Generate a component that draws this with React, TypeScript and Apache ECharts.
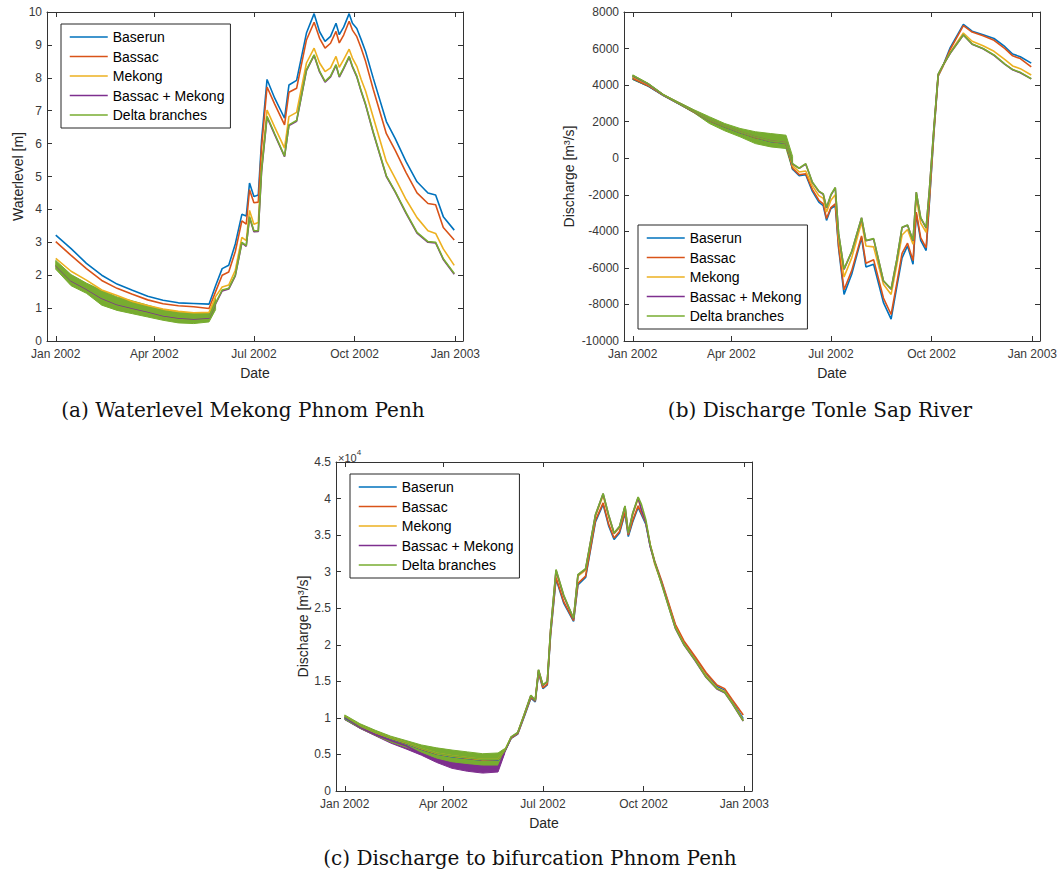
import React, { useEffect, useRef } from "react";
import * as echarts from "echarts";

// ---------- data ----------
const dates = [
  "2002-01-01", "2002-01-15", "2002-01-29", "2002-02-12", "2002-02-26", "2002-03-12", "2002-03-26", "2002-04-09",
  "2002-04-23", "2002-05-07", "2002-05-21", "2002-05-27", "2002-06-02", "2002-06-08", "2002-06-14", "2002-06-20",
  "2002-06-24", "2002-06-27", "2002-07-01", "2002-07-05", "2002-07-08", "2002-07-13", "2002-07-20", "2002-07-29",
  "2002-08-02", "2002-08-09", "2002-08-18", "2002-08-25", "2002-08-30", "2002-09-04", "2002-09-09", "2002-09-14",
  "2002-09-17", "2002-09-21", "2002-09-26", "2002-09-29", "2002-10-03", "2002-10-07", "2002-10-11", "2002-10-18",
  "2002-10-30", "2002-11-07", "2002-11-17", "2002-11-27", "2002-12-07", "2002-12-14", "2002-12-21", "2002-12-31",
];

const seriesNames = ["Baserun", "Bassac", "Mekong", "Bassac + Mekong", "Delta branches"];
const tickDates = ["2002-01-01", "2002-04-01", "2002-07-01", "2002-10-01", "2003-01-01"];
const monthNames = ["Jan", "Feb", "Mar", "Apr", "May", "Jun", "Jul", "Aug", "Sep", "Oct", "Nov", "Dec"];
const captions = ["(a) Waterlevel Mekong Phnom Penh", "(b) Discharge Tonle Sap River", "(c) Discharge to bifurcation Phnom Penh"];

// (a) Waterlevel Mekong Phnom Penh [m]
const wlBaserun = [3.22, 2.81, 2.36, 2.0, 1.73, 1.54, 1.36, 1.24, 1.16, 1.14, 1.12, 1.68, 2.2, 2.3, 2.95, 3.85, 3.8, 4.8, 4.39, 4.44, 6.1, 7.95, 7.38, 6.77, 7.78, 7.92, 9.36, 9.95, 9.4, 9.11, 9.26, 9.66, 9.31, 9.54, 9.95, 9.66, 9.5, 9.16, 8.8, 7.99, 6.67, 6.16, 5.45, 4.84, 4.5, 4.44, 3.78, 3.37];
const wlBassac = [3.02, 2.6, 2.2, 1.84, 1.6, 1.42, 1.25, 1.13, 1.07, 1.04, 0.99, 1.5, 2.0, 2.1, 2.72, 3.65, 3.55, 4.6, 4.2, 4.22, 5.9, 7.72, 7.2, 6.57, 7.56, 7.68, 9.15, 9.69, 9.2, 8.9, 9.05, 9.41, 9.06, 9.3, 9.72, 9.45, 9.25, 8.9, 8.5, 7.65, 6.3, 5.8, 5.12, 4.5, 4.18, 4.14, 3.45, 3.07];
const wlMekong = [2.51, 2.12, 1.85, 1.55, 1.38, 1.2, 1.08, 0.97, 0.9, 0.86, 0.87, 1.35, 1.64, 1.7, 2.15, 3.15, 3.05, 3.97, 3.55, 3.6, 5.3, 7.02, 6.5, 5.86, 6.82, 6.95, 8.45, 8.9, 8.45, 8.19, 8.3, 8.65, 8.32, 8.55, 8.87, 8.6, 8.35, 7.95, 7.6, 6.8, 5.45, 4.95, 4.3, 3.75, 3.35, 3.27, 2.8, 2.3];
const wlBoth = [2.3, 1.83, 1.58, 1.3, 1.11, 1.0, 0.89, 0.77, 0.7, 0.67, 0.7, 1.13, 1.52, 1.58, 1.98, 2.98, 2.88, 3.75, 3.32, 3.33, 5.15, 6.8, 6.27, 5.6, 6.55, 6.68, 8.22, 8.68, 8.18, 7.87, 8.03, 8.38, 8.02, 8.28, 8.63, 8.33, 8.03, 7.58, 7.18, 6.33, 5.0, 4.53, 3.88, 3.28, 3.0, 2.98, 2.48, 2.03];
const wlDelta = [2.32, 1.85, 1.6, 1.32, 1.13, 1.02, 0.91, 0.79, 0.72, 0.69, 0.72, 1.15, 1.55, 1.6, 2.0, 3.0, 2.9, 3.78, 3.35, 3.35, 5.2, 6.83, 6.3, 5.62, 6.57, 6.7, 8.24, 8.7, 8.2, 7.89, 8.05, 8.4, 8.04, 8.3, 8.65, 8.35, 8.05, 7.6, 7.2, 6.35, 5.02, 4.55, 3.9, 3.3, 3.02, 3.0, 2.5, 2.05];
// tidal band of "Delta branches" over the first 12 dates (low / high envelope)
const wlDeltaLow = [2.18, 1.68, 1.45, 1.09, 0.93, 0.83, 0.73, 0.63, 0.55, 0.53, 0.58, 0.95];
const wlDeltaHigh = [2.45, 2.02, 1.76, 1.54, 1.34, 1.22, 1.09, 0.95, 0.88, 0.85, 0.85, 1.3];

// (b) Discharge Tonle Sap River [m3/s]
const tsBaserun = [4330, 3950, 3430, 2980, 2520, 2060, 1720, 1410, 1130, 920, 820, -600, -950, -900, -1800, -2400, -2600, -3400, -2750, -2600, -4900, -7450, -6350, -4350, -5950, -5800, -7900, -8800, -7100, -5450, -4800, -5800, -3050, -4500, -5050, -2400, 1300, 4500, 5000, 6050, 7320, 6950, 6750, 6550, 6100, 5700, 5550, 5200];
const tsBassac = [4360, 3970, 3440, 2990, 2530, 2070, 1730, 1420, 1140, 930, 830, -550, -900, -850, -1700, -2300, -2500, -3300, -2700, -2500, -4800, -7200, -6150, -4250, -5750, -5550, -7650, -8550, -6900, -5200, -4650, -5600, -2950, -4350, -4900, -2300, 1350, 4500, 5000, 5950, 7250, 6900, 6700, 6450, 6000, 5600, 5450, 5000];
const tsMekong = [4450, 4030, 3460, 3010, 2550, 2090, 1750, 1440, 1160, 950, 850, -420, -750, -700, -1500, -2050, -2200, -2950, -2300, -2000, -4400, -6500, -5450, -3500, -4800, -4850, -6900, -7450, -5900, -4200, -3900, -4700, -2150, -3550, -4050, -1900, 1500, 4550, 5000, 5800, 6850, 6400, 6150, 5850, 5400, 5050, 4900, 4550];
const tsBoth = [4500, 4060, 3460, 3010, 2550, 2090, 1750, 1440, 1160, 950, 850, -320, -560, -320, -1320, -1820, -1970, -2720, -2020, -1620, -4120, -6080, -5120, -3270, -4520, -4420, -6720, -7170, -5620, -3790, -3670, -4520, -1870, -3270, -3820, -1720, 1590, 4590, 5040, 5740, 6740, 6240, 5990, 5630, 5130, 4840, 4680, 4340];
const tsDelta = [4530, 4080, 3470, 3010, 2550, 2090, 1750, 1440, 1160, 950, 850, -300, -550, -300, -1300, -1800, -1950, -2700, -2000, -1600, -4100, -6050, -5100, -3250, -4500, -4400, -6700, -7150, -5600, -3780, -3650, -4500, -1850, -3250, -3800, -1700, 1600, 4600, 5050, 5750, 6750, 6250, 6000, 5650, 5150, 4850, 4700, 4350];
const tsDeltaLow = [4300, 3930, 3420, 2960, 2480, 1900, 1500, 1170, 800, 620, 530, -650];
const tsDeltaHigh = [4560, 4100, 3490, 3070, 2650, 2270, 1900, 1630, 1450, 1350, 1260, 100];

// (c) Discharge to bifurcation Phnom Penh [m3/s]
const bfBaserun = [10000, 8800, 7900, 7150, 6500, 5700, 5050, 4700, 4450, 4200, 4250, 5400, 7200, 7800, 10200, 12700, 12200, 16200, 14000, 14500, 21300, 29000, 25700, 23200, 28200, 29200, 36800, 39200, 36300, 34400, 35300, 38000, 34800, 36800, 38800, 37800, 36500, 33500, 31300, 28300, 22600, 20300, 18200, 16000, 14300, 13800, 12300, 9900];
const bfBassac = [10100, 8850, 7950, 7200, 6550, 5750, 5100, 4750, 4500, 4250, 4300, 5400, 7250, 7850, 10300, 12800, 12300, 16300, 14100, 14600, 21500, 29200, 25900, 23300, 28400, 29400, 37000, 39400, 36500, 34600, 35500, 38200, 35000, 37000, 39000, 38000, 36700, 33700, 31500, 28500, 22800, 20500, 18400, 16200, 14500, 14000, 12500, 10400];
const bfMekong = [10200, 8900, 8000, 7250, 6600, 5800, 5150, 4800, 4550, 4300, 4350, 5500, 7350, 7950, 10450, 13000, 12400, 16500, 14400, 14900, 21900, 30000, 26600, 23600, 29400, 30200, 37600, 40400, 37500, 35200, 36000, 38800, 35200, 37800, 40000, 38400, 36800, 33600, 31100, 28200, 22400, 20100, 18000, 15800, 14100, 13600, 12100, 9700];
const bfBoth = [10100, 8700, 7700, 6900, 6200, 5100, 4200, 3700, 3300, 3100, 3200, 5300, 7350, 7950, 10450, 13050, 12350, 16550, 14450, 14950, 21950, 30200, 26700, 23550, 29550, 30350, 37750, 40650, 37750, 35250, 36150, 38950, 35250, 37950, 40150, 38450, 36750, 33450, 31350, 28150, 22250, 19950, 17850, 15550, 13950, 13450, 11950, 9550];
const bfDelta = [10200, 8900, 8000, 7250, 6600, 5800, 5150, 4800, 4550, 4300, 4350, 5500, 7400, 8000, 10500, 13100, 12400, 16600, 14500, 15000, 22000, 30300, 26800, 23600, 29600, 30400, 37800, 40700, 37800, 35300, 36200, 39000, 35300, 38000, 40200, 39200, 37100, 33700, 31400, 28000, 22300, 20000, 17900, 15600, 14000, 13500, 12000, 9600];
const bfDeltaLow = [9800, 8600, 7600, 6700, 6000, 5300, 4500, 4000, 3750, 3550, 3550, 5300];
const bfDeltaHigh = [10400, 9200, 8300, 7500, 6900, 6300, 5900, 5600, 5350, 5100, 5200, 5800];
const bfBothLow = [9750, 8550, 7550, 6550, 5750, 4900, 3900, 3100, 2700, 2450, 2600, 5100];

// ---------- helpers ----------
const COLORS = ["#0072BD", "#D95319", "#EDB120", "#7E2F8E", "#77AC30"];
const FONT = "'Liberation Sans', Arial, Helvetica, sans-serif";
const SERIF = "'DejaVu Serif', serif";
const AXIS_COLOR = "#333333";
const LABEL_COLOR = "#383838";

function ts(s: string): number {
  const [y, m, d] = s.split("-").map(Number);
  return new Date(y, m - 1, d).getTime();
}
const xMin = ts("2001-12-24");
const xMax = ts("2003-01-08");
const xTicks = tickDates.map(ts);

function fmtDate(v: number): string {
  const d = new Date(v);
  return monthNames[d.getMonth()] + " " + d.getFullYear();
}

function lineSeries(g: number, values: number[], i: number) {
  return {
    type: "line",
    name: seriesNames[i],
    xAxisIndex: g * 2,
    yAxisIndex: g * 2,
    data: values.map((v, k) => [ts(dates[k]), v]),
    symbol: "none",
    showSymbol: false,
    silent: true,
    color: COLORS[i],
    lineStyle: { color: COLORS[i], width: 1.6 },
    itemStyle: { color: COLORS[i] },
    emphasis: { disabled: true },
    z: 2,
  };
}

function bandSeries(g: number, low: number[], high: number[], color: string) {
  const rows = low.map((v, k) => [ts(dates[k]), v, high[k]]);
  return {
    type: "custom",
    xAxisIndex: g * 2,
    yAxisIndex: g * 2,
    silent: true,
    z: 2,
    data: rows,
    encode: { x: 0, y: [1, 2] },
    renderItem: (params: any, api: any) => {
      if (params.dataIndex !== 0) return null;
      const top = rows.map((r) => api.coord([r[0], r[2]]));
      const bot = rows.slice().reverse().map((r) => api.coord([r[0], r[1]]));
      return {
        type: "polygon",
        shape: { points: top.concat(bot), smooth: 0 },
        style: { fill: color, stroke: color, lineWidth: 1 },
      };
    },
  };
}

function xAxes(g: number) {
  const base = {
    type: "value",
    gridIndex: g,
    min: xMin,
    max: xMax,
    splitLine: { show: false },
    axisLine: { show: true, onZero: false, lineStyle: { color: AXIS_COLOR, width: 1 } },
    axisTick: { show: true, inside: true, length: 5, customValues: xTicks, lineStyle: { color: AXIS_COLOR } },
  };
  return [
    {
      ...base,
      position: "bottom",
      name: "Date",
      nameLocation: "middle",
      nameGap: 25,
      nameTextStyle: { fontFamily: FONT, fontSize: 14, color: "#262626" },
      axisLabel: {
        show: true,
        customValues: xTicks,
        formatter: (v: number) => fmtDate(v),
        fontFamily: FONT,
        fontSize: 12,
        color: LABEL_COLOR,
        margin: 7,
        hideOverlap: false,
        showMinLabel: true,
        showMaxLabel: true,
      },
    },
    { ...base, position: "top", axisLabel: { show: false } },
  ];
}

function yAxes(g: number, min: number, max: number, interval: number, name: string, nameGap: number, fmt: (v: number) => string) {
  const base = {
    type: "value",
    gridIndex: g,
    min,
    max,
    interval,
    splitLine: { show: false },
    axisLine: { show: true, onZero: false, lineStyle: { color: AXIS_COLOR, width: 1 } },
    axisTick: { show: true, inside: true, length: 5, lineStyle: { color: AXIS_COLOR } },
  };
  return [
    {
      ...base,
      position: "left",
      name,
      nameLocation: "middle",
      nameGap,
      nameTextStyle: { fontFamily: FONT, fontSize: 14, color: "#262626" },
      axisLabel: { show: true, formatter: fmt, fontFamily: FONT, fontSize: 12, color: LABEL_COLOR, margin: 5 },
    },
    { ...base, position: "right", axisLabel: { show: false } },
  ];
}

function legend(left: number, top: number) {
  return {
    orient: "vertical",
    left,
    top,
    data: seriesNames,
    itemWidth: 38,
    itemHeight: 14,
    itemGap: 5.5,
    padding: [6, 6, 6, 8],
    borderColor: "#262626",
    borderWidth: 1,
    backgroundColor: "#ffffff",
    selectedMode: false,
    itemStyle: { opacity: 0, borderWidth: 0 },
    lineStyle: { width: 1.5 },
    textStyle: { fontFamily: FONT, fontSize: 14, color: "#000000" },
  };
}

export default function App() {
  const ref = useRef<HTMLDivElement>(null);

  useEffect(() => {
    document.body.style.margin = "0";
    if (!ref.current) return;
    const chart = echarts.init(ref.current, undefined, { renderer: "svg" });

    const gridW = 416;
    const gridH = 329;
    const option: any = {
      animation: false,
      backgroundColor: "#ffffff",
      grid: [
        { left: 47, top: 12, width: gridW, height: gridH },
        { left: 624, top: 12, width: gridW, height: gridH },
        { left: 336, top: 462, width: gridW, height: gridH },
      ],
      xAxis: [...xAxes(0), ...xAxes(1), ...xAxes(2)],
      yAxis: [
        ...yAxes(0, 0, 10, 1, "Waterlevel [m]", 22, (v) => String(v)),
        ...yAxes(1, -10000, 8000, 2000, "Discharge [m³/s]", 48, (v) => String(v)),
        ...yAxes(2, 0, 45000, 5000, "Discharge [m³/s]", 26, (v) => String(v / 10000)),
      ],
      legend: [legend(61, 24), legend(638, 225), legend(350, 474)],
      series: [
        lineSeries(0, wlBaserun, 0),
        lineSeries(0, wlBassac, 1),
        lineSeries(0, wlMekong, 2),
        lineSeries(0, wlBoth, 3),
        lineSeries(0, wlDelta, 4),
        bandSeries(0, wlDeltaLow, wlDeltaHigh, COLORS[4]),
        lineSeries(1, tsBaserun, 0),
        lineSeries(1, tsBassac, 1),
        lineSeries(1, tsMekong, 2),
        lineSeries(1, tsBoth, 3),
        lineSeries(1, tsDelta, 4),
        bandSeries(1, tsDeltaLow, tsDeltaHigh, COLORS[4]),
        lineSeries(2, bfBaserun, 0),
        lineSeries(2, bfBassac, 1),
        lineSeries(2, bfMekong, 2),
        lineSeries(2, bfBoth, 3),
        bandSeries(2, bfBothLow, bfDeltaLow, COLORS[3]),
        lineSeries(2, bfDelta, 4),
        bandSeries(2, bfDeltaLow, bfDeltaHigh, COLORS[4]),
      ],
      graphic: [
        {
          type: "text",
          left: 338,
          top: 448,
          style: {
            text: "{b|×10}{s|4}",
            fill: LABEL_COLOR,
            rich: {
              b: { fontFamily: FONT, fontSize: 11, fill: LABEL_COLOR, verticalAlign: "bottom", lineHeight: 15 },
              s: { fontFamily: FONT, fontSize: 8, fill: LABEL_COLOR, verticalAlign: "top", lineHeight: 15 },
            },
          },
        },
        {
          type: "text",
          style: { text: captions[0], x: 243, y: 410, textAlign: "center", textVerticalAlign: "middle", fontFamily: SERIF, fontSize: 20, fill: "#111" },
        },
        {
          type: "text",
          style: { text: captions[1], x: 820, y: 410, textAlign: "center", textVerticalAlign: "middle", fontFamily: SERIF, fontSize: 20, fill: "#111" },
        },
        {
          type: "text",
          style: { text: captions[2], x: 530, y: 858, textAlign: "center", textVerticalAlign: "middle", fontFamily: SERIF, fontSize: 20, fill: "#111" },
        },
      ],
    };

    chart.setOption(option);
    return () => chart.dispose();
  }, []);

  return <div ref={ref} style={{ width: 1061, height: 878 }} />;
}
